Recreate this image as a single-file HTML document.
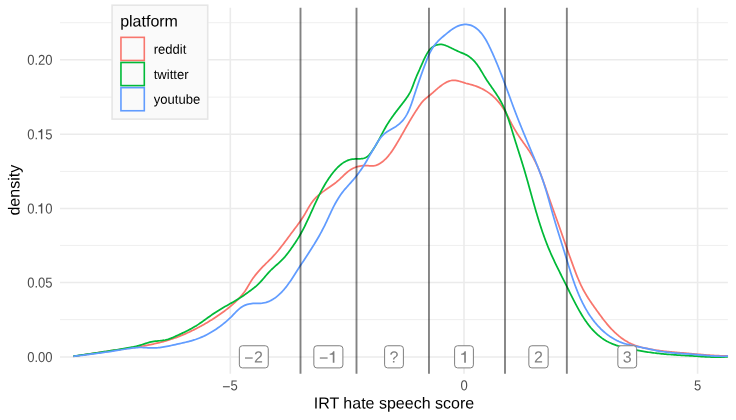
<!DOCTYPE html>
<html><head><meta charset="utf-8"><title>density</title>
<style>
html,body{margin:0;padding:0;background:#fff;}
svg{display:block;will-change:transform;opacity:0.999;}
text{font-family:"Liberation Sans",sans-serif;}
</style></head><body>
<svg width="736" height="420" viewBox="0 0 736 420">
<rect width="736" height="420" fill="#ffffff"/>

<line x1="60" x2="727.9" y1="22.70" y2="22.70" stroke="#ebebeb" stroke-width="0.78"/>
<line x1="60" x2="727.9" y1="97.15" y2="97.15" stroke="#ebebeb" stroke-width="0.78"/>
<line x1="60" x2="727.9" y1="171.42" y2="171.42" stroke="#ebebeb" stroke-width="0.78"/>
<line x1="60" x2="727.9" y1="245.45" y2="245.45" stroke="#ebebeb" stroke-width="0.78"/>
<line x1="60" x2="727.9" y1="319.60" y2="319.60" stroke="#ebebeb" stroke-width="0.78"/>
<line x1="60" x2="727.9" y1="59.80" y2="59.80" stroke="#ebebeb" stroke-width="1.5"/>
<line x1="60" x2="727.9" y1="134.25" y2="134.25" stroke="#ebebeb" stroke-width="1.5"/>
<line x1="60" x2="727.9" y1="208.40" y2="208.40" stroke="#ebebeb" stroke-width="1.5"/>
<line x1="60" x2="727.9" y1="282.50" y2="282.50" stroke="#ebebeb" stroke-width="1.5"/>
<line x1="60" x2="727.9" y1="356.90" y2="356.90" stroke="#ebebeb" stroke-width="1.5"/>
<line x1="230.3" x2="230.3" y1="7.8" y2="373.7" stroke="#ebebeb" stroke-width="1.6"/>
<line x1="464.0" x2="464.0" y1="7.8" y2="373.7" stroke="#ebebeb" stroke-width="1.6"/>
<line x1="697.6" x2="697.6" y1="7.8" y2="373.7" stroke="#ebebeb" stroke-width="1.6"/>
<path transform="translate(0.25,0.25)" d="M73.10,356.10 L74.41,355.91 L75.73,355.71 L77.04,355.52 L78.35,355.33 L79.66,355.13 L80.98,354.94 L82.29,354.74 L83.60,354.55 L84.90,354.36 L86.21,354.16 L87.52,353.97 L88.83,353.77 L90.14,353.58 L91.44,353.38 L92.75,353.19 L94.05,352.99 L95.36,352.80 L96.67,352.60 L97.97,352.41 L99.28,352.21 L100.58,352.02 L101.89,351.82 L103.19,351.63 L104.50,351.44 L105.81,351.24 L107.11,351.05 L108.42,350.86 L109.72,350.66 L111.03,350.47 L112.34,350.28 L113.64,350.09 L114.95,349.89 L116.26,349.70 L117.57,349.51 L118.88,349.32 L120.19,349.13 L121.50,348.94 L122.81,348.75 L124.12,348.56 L125.43,348.37 L126.74,348.19 L128.06,348.00 L129.37,347.80 L130.68,347.61 L131.99,347.42 L133.31,347.22 L134.62,347.02 L135.93,346.82 L137.24,346.62 L138.55,346.41 L139.86,346.20 L141.17,345.98 L142.48,345.76 L143.78,345.54 L145.09,345.30 L146.39,345.07 L147.69,344.82 L149.00,344.58 L150.29,344.32 L151.59,344.06 L152.89,343.79 L154.18,343.51 L155.47,343.22 L156.76,342.93 L158.04,342.62 L159.33,342.31 L160.61,341.99 L161.89,341.66 L163.16,341.31 L164.43,340.96 L165.70,340.60 L166.97,340.22 L168.23,339.84 L169.49,339.44 L170.75,339.03 L172.00,338.61 L173.25,338.18 L174.49,337.74 L175.74,337.30 L176.97,336.84 L178.21,336.37 L179.44,335.89 L180.67,335.40 L181.89,334.90 L183.12,334.39 L184.33,333.87 L185.55,333.34 L186.76,332.81 L187.96,332.26 L189.16,331.71 L190.36,331.15 L191.56,330.57 L192.75,329.99 L193.93,329.40 L195.12,328.81 L196.30,328.20 L197.47,327.59 L198.64,326.97 L199.81,326.34 L200.97,325.70 L202.13,325.06 L203.28,324.41 L204.43,323.75 L205.58,323.08 L206.72,322.41 L207.86,321.73 L208.99,321.04 L210.12,320.34 L211.24,319.64 L212.36,318.94 L213.48,318.22 L214.59,317.50 L215.70,316.78 L216.80,316.04 L217.89,315.30 L218.99,314.56 L220.07,313.80 L221.15,313.04 L222.22,312.27 L223.29,311.50 L224.35,310.71 L225.41,309.91 L226.45,309.11 L227.49,308.29 L228.52,307.47 L229.54,306.63 L230.56,305.79 L231.56,304.93 L232.56,304.06 L233.54,303.18 L234.52,302.29 L235.49,301.39 L236.45,300.47 L237.39,299.54 L238.32,298.59 L239.23,297.63 L240.13,296.65 L241.00,295.66 L241.86,294.65 L242.69,293.62 L243.50,292.58 L244.29,291.51 L245.04,290.43 L245.77,289.32 L246.48,288.20 L247.17,287.07 L247.84,285.93 L248.51,284.78 L249.18,283.63 L249.86,282.49 L250.55,281.36 L251.25,280.24 L251.98,279.14 L252.73,278.05 L253.51,276.97 L254.30,275.91 L255.11,274.87 L255.94,273.84 L256.78,272.82 L257.64,271.81 L258.51,270.82 L259.40,269.83 L260.29,268.86 L261.20,267.89 L262.11,266.93 L263.04,265.98 L263.96,265.04 L264.90,264.11 L265.84,263.18 L266.78,262.25 L267.72,261.32 L268.65,260.40 L269.59,259.47 L270.52,258.53 L271.44,257.59 L272.35,256.64 L273.25,255.68 L274.14,254.71 L275.02,253.72 L275.89,252.73 L276.75,251.72 L277.60,250.71 L278.44,249.69 L279.28,248.66 L280.10,247.62 L280.92,246.58 L281.74,245.53 L282.55,244.48 L283.35,243.43 L284.15,242.37 L284.94,241.30 L285.74,240.24 L286.53,239.17 L287.32,238.11 L288.11,237.04 L288.90,235.97 L289.69,234.91 L290.48,233.85 L291.27,232.79 L292.06,231.73 L292.86,230.68 L293.65,229.63 L294.45,228.58 L295.24,227.52 L296.03,226.47 L296.82,225.41 L297.60,224.35 L298.37,223.29 L299.14,222.21 L299.90,221.14 L300.65,220.05 L301.39,218.96 L302.12,217.85 L302.83,216.74 L303.54,215.61 L304.23,214.47 L304.90,213.32 L305.57,212.16 L306.24,211.00 L306.90,209.83 L307.56,208.67 L308.23,207.51 L308.92,206.37 L309.61,205.23 L310.32,204.11 L311.05,203.01 L311.81,201.93 L312.60,200.88 L313.42,199.85 L314.27,198.86 L315.16,197.90 L316.08,196.97 L317.04,196.07 L318.02,195.19 L319.02,194.34 L320.05,193.51 L321.09,192.69 L322.15,191.90 L323.23,191.11 L324.31,190.34 L325.40,189.58 L326.49,188.82 L327.58,188.06 L328.67,187.31 L329.76,186.56 L330.84,185.80 L331.91,185.04 L332.97,184.27 L334.03,183.49 L335.07,182.69 L336.10,181.88 L337.12,181.04 L338.13,180.18 L339.11,179.30 L340.09,178.39 L341.05,177.46 L342.01,176.53 L342.97,175.59 L343.94,174.65 L344.91,173.74 L345.90,172.84 L346.91,171.97 L347.94,171.14 L349.00,170.36 L350.09,169.62 L351.21,168.94 L352.36,168.32 L353.54,167.75 L354.74,167.23 L355.97,166.78 L357.22,166.39 L358.49,166.06 L359.78,165.79 L361.08,165.59 L362.40,165.46 L363.74,165.39 L365.09,165.39 L366.44,165.43 L367.80,165.49 L369.15,165.56 L370.49,165.60 L371.82,165.59 L373.13,165.51 L374.42,165.34 L375.67,165.05 L376.90,164.64 L378.08,164.13 L379.24,163.51 L380.36,162.81 L381.45,162.05 L382.51,161.22 L383.53,160.35 L384.51,159.45 L385.47,158.52 L386.39,157.57 L387.28,156.59 L388.14,155.59 L388.98,154.56 L389.80,153.52 L390.59,152.46 L391.37,151.38 L392.12,150.29 L392.86,149.19 L393.58,148.08 L394.30,146.96 L395.00,145.83 L395.69,144.70 L396.37,143.56 L397.05,142.42 L397.73,141.28 L398.40,140.14 L399.06,139.00 L399.72,137.85 L400.38,136.70 L401.04,135.56 L401.70,134.41 L402.35,133.26 L403.00,132.11 L403.65,130.97 L404.30,129.82 L404.96,128.67 L405.61,127.52 L406.26,126.38 L406.92,125.23 L407.58,124.09 L408.24,122.94 L408.90,121.80 L409.57,120.66 L410.24,119.52 L410.91,118.39 L411.60,117.26 L412.28,116.12 L412.98,115.00 L413.68,113.87 L414.38,112.75 L415.10,111.63 L415.82,110.52 L416.55,109.40 L417.29,108.30 L418.03,107.19 L418.78,106.09 L419.52,104.99 L420.28,103.91 L421.05,102.85 L421.86,101.82 L422.72,100.84 L423.63,99.91 L424.60,99.03 L425.60,98.19 L426.62,97.36 L427.65,96.54 L428.69,95.72 L429.71,94.88 L430.71,94.03 L431.71,93.17 L432.70,92.30 L433.69,91.42 L434.67,90.54 L435.66,89.66 L436.66,88.79 L437.67,87.93 L438.70,87.08 L439.74,86.24 L440.80,85.43 L441.89,84.63 L443.00,83.87 L444.13,83.14 L445.29,82.47 L446.47,81.86 L447.67,81.32 L448.88,80.86 L450.11,80.49 L451.36,80.24 L452.62,80.09 L453.90,80.07 L455.18,80.17 L456.48,80.36 L457.78,80.64 L459.08,80.98 L460.39,81.36 L461.70,81.78 L463.01,82.20 L464.31,82.61 L465.61,83.00 L466.90,83.35 L468.19,83.69 L469.47,84.02 L470.74,84.35 L472.01,84.69 L473.26,85.06 L474.51,85.47 L475.75,85.90 L476.98,86.36 L478.20,86.86 L479.40,87.38 L480.60,87.93 L481.78,88.51 L482.94,89.13 L484.09,89.77 L485.23,90.44 L486.35,91.13 L487.45,91.86 L488.53,92.61 L489.60,93.39 L490.64,94.20 L491.67,95.03 L492.67,95.89 L493.66,96.78 L494.61,97.69 L495.55,98.63 L496.46,99.59 L497.35,100.57 L498.21,101.58 L499.06,102.61 L499.88,103.65 L500.68,104.72 L501.45,105.80 L502.21,106.89 L502.94,108.01 L503.66,109.13 L504.35,110.26 L505.02,111.41 L505.68,112.56 L506.31,113.72 L506.94,114.89 L507.55,116.06 L508.16,117.24 L508.75,118.42 L509.35,119.60 L509.94,120.78 L510.54,121.95 L511.14,123.13 L511.75,124.30 L512.37,125.46 L513.00,126.62 L513.64,127.76 L514.30,128.91 L514.97,130.04 L515.65,131.17 L516.34,132.29 L517.05,133.41 L517.76,134.52 L518.48,135.63 L519.22,136.73 L519.96,137.82 L520.71,138.91 L521.47,140.00 L522.24,141.08 L523.00,142.17 L523.77,143.25 L524.54,144.33 L525.31,145.41 L526.08,146.50 L526.83,147.59 L527.58,148.68 L528.32,149.77 L529.05,150.88 L529.77,151.99 L530.47,153.11 L531.15,154.24 L531.81,155.37 L532.46,156.52 L533.10,157.67 L533.72,158.84 L534.32,160.01 L534.91,161.18 L535.49,162.37 L536.05,163.56 L536.60,164.76 L537.14,165.96 L537.67,167.17 L538.19,168.38 L538.70,169.60 L539.20,170.83 L539.69,172.06 L540.17,173.29 L540.65,174.53 L541.12,175.77 L541.58,177.01 L542.03,178.26 L542.48,179.51 L542.93,180.76 L543.37,182.02 L543.81,183.27 L544.25,184.53 L544.68,185.78 L545.11,187.04 L545.54,188.30 L545.97,189.56 L546.40,190.82 L546.83,192.07 L547.26,193.33 L547.69,194.59 L548.13,195.84 L548.56,197.09 L549.00,198.34 L549.44,199.59 L549.88,200.84 L550.32,202.09 L550.77,203.34 L551.21,204.58 L551.65,205.83 L552.10,207.07 L552.55,208.32 L552.99,209.56 L553.44,210.80 L553.89,212.05 L554.34,213.29 L554.78,214.53 L555.23,215.77 L555.68,217.02 L556.13,218.26 L556.57,219.50 L557.02,220.74 L557.47,221.99 L557.91,223.23 L558.36,224.47 L558.80,225.72 L559.24,226.96 L559.68,228.21 L560.12,229.45 L560.56,230.70 L561.00,231.95 L561.44,233.19 L561.87,234.44 L562.31,235.69 L562.75,236.94 L563.18,238.19 L563.62,239.43 L564.06,240.68 L564.49,241.93 L564.93,243.18 L565.37,244.43 L565.80,245.68 L566.24,246.93 L566.68,248.18 L567.11,249.43 L567.55,250.68 L567.99,251.93 L568.43,253.18 L568.88,254.43 L569.32,255.68 L569.76,256.93 L570.21,258.17 L570.65,259.42 L571.10,260.67 L571.55,261.92 L572.00,263.17 L572.45,264.41 L572.91,265.66 L573.36,266.90 L573.82,268.15 L574.29,269.39 L574.75,270.63 L575.22,271.87 L575.70,273.11 L576.18,274.35 L576.67,275.58 L577.17,276.80 L577.67,278.03 L578.19,279.25 L578.71,280.46 L579.24,281.67 L579.79,282.88 L580.34,284.07 L580.90,285.27 L581.48,286.45 L582.07,287.63 L582.68,288.80 L583.30,289.97 L583.93,291.13 L584.58,292.27 L585.24,293.42 L585.92,294.55 L586.60,295.68 L587.30,296.80 L588.01,297.91 L588.73,299.02 L589.46,300.13 L590.20,301.22 L590.94,302.32 L591.69,303.41 L592.45,304.50 L593.21,305.58 L593.98,306.66 L594.75,307.74 L595.52,308.82 L596.29,309.89 L597.07,310.97 L597.84,312.04 L598.62,313.11 L599.40,314.18 L600.18,315.25 L600.96,316.31 L601.75,317.37 L602.55,318.42 L603.35,319.47 L604.16,320.51 L604.98,321.54 L605.81,322.57 L606.64,323.59 L607.49,324.60 L608.35,325.60 L609.22,326.60 L610.11,327.58 L611.01,328.55 L611.92,329.51 L612.85,330.45 L613.80,331.39 L614.76,332.31 L615.74,333.21 L616.73,334.09 L617.74,334.96 L618.76,335.81 L619.80,336.64 L620.85,337.45 L621.92,338.23 L623.01,338.99 L624.11,339.73 L625.22,340.44 L626.35,341.12 L627.50,341.78 L628.66,342.41 L629.83,343.00 L631.02,343.57 L632.23,344.10 L633.45,344.60 L634.68,345.07 L635.92,345.51 L637.17,345.93 L638.44,346.32 L639.71,346.68 L640.99,347.03 L642.27,347.35 L643.57,347.66 L644.86,347.95 L646.16,348.22 L647.46,348.48 L648.77,348.73 L650.07,348.97 L651.38,349.20 L652.68,349.42 L653.99,349.63 L655.30,349.83 L656.61,350.03 L657.92,350.21 L659.23,350.39 L660.54,350.56 L661.85,350.72 L663.16,350.87 L664.48,351.02 L665.79,351.17 L667.11,351.31 L668.42,351.44 L669.74,351.57 L671.05,351.70 L672.37,351.82 L673.69,351.94 L675.00,352.06 L676.32,352.18 L677.64,352.29 L678.96,352.40 L680.27,352.51 L681.59,352.63 L682.91,352.74 L684.23,352.85 L685.55,352.97 L686.87,353.08 L688.19,353.20 L689.50,353.31 L690.82,353.43 L692.14,353.55 L693.46,353.66 L694.78,353.78 L696.10,353.90 L697.41,354.01 L698.73,354.12 L700.05,354.23 L701.37,354.35 L702.69,354.45 L704.01,354.56 L705.33,354.66 L706.65,354.76 L707.97,354.86 L709.29,354.95 L710.61,355.04 L711.93,355.13 L713.25,355.21 L714.57,355.29 L715.89,355.36 L717.22,355.43 L718.54,355.49 L719.86,355.54 L721.18,355.60 L722.50,355.64 L723.83,355.68 L725.15,355.71 L726.48,355.73 L727.80,355.75" fill="none" stroke="#F8766D" stroke-width="1.75" stroke-linejoin="round" stroke-linecap="butt"/>
<path transform="translate(0.25,0.25)" d="M73.10,355.90 L74.50,355.71 L75.91,355.52 L77.31,355.32 L78.71,355.13 L80.12,354.93 L81.52,354.74 L82.92,354.54 L84.32,354.34 L85.72,354.15 L87.13,353.95 L88.53,353.75 L89.93,353.54 L91.33,353.34 L92.73,353.14 L94.13,352.93 L95.53,352.73 L96.93,352.52 L98.33,352.32 L99.73,352.11 L101.13,351.90 L102.53,351.69 L103.93,351.48 L105.33,351.26 L106.73,351.05 L108.13,350.83 L109.53,350.62 L110.93,350.40 L112.33,350.18 L113.72,349.96 L115.12,349.74 L116.52,349.52 L117.92,349.30 L119.32,349.08 L120.72,348.85 L122.11,348.62 L123.51,348.40 L124.91,348.17 L126.31,347.93 L127.70,347.69 L129.09,347.44 L130.48,347.18 L131.87,346.90 L133.26,346.62 L134.64,346.31 L136.01,345.99 L137.39,345.64 L138.75,345.28 L140.11,344.89 L141.47,344.47 L142.82,344.04 L144.17,343.60 L145.52,343.17 L146.87,342.74 L148.23,342.34 L149.59,341.96 L150.97,341.63 L152.35,341.34 L153.75,341.11 L155.16,340.92 L156.57,340.77 L157.99,340.64 L159.41,340.50 L160.82,340.36 L162.23,340.20 L163.63,339.99 L165.01,339.74 L166.38,339.42 L167.73,339.04 L169.07,338.61 L170.39,338.14 L171.71,337.62 L173.02,337.08 L174.32,336.51 L175.61,335.92 L176.90,335.32 L178.19,334.72 L179.48,334.12 L180.77,333.52 L182.05,332.91 L183.33,332.30 L184.61,331.68 L185.88,331.05 L187.15,330.42 L188.41,329.78 L189.66,329.12 L190.90,328.45 L192.14,327.77 L193.37,327.07 L194.59,326.36 L195.79,325.63 L196.99,324.88 L198.17,324.11 L199.34,323.33 L200.51,322.53 L201.67,321.72 L202.82,320.90 L203.97,320.07 L205.12,319.24 L206.26,318.41 L207.41,317.58 L208.55,316.74 L209.70,315.92 L210.85,315.09 L212.01,314.28 L213.17,313.47 L214.35,312.68 L215.53,311.90 L216.72,311.14 L217.91,310.39 L219.12,309.65 L220.33,308.93 L221.55,308.21 L222.77,307.50 L224.00,306.79 L225.23,306.09 L226.46,305.40 L227.70,304.70 L228.93,304.01 L230.17,303.32 L231.40,302.62 L232.63,301.92 L233.85,301.21 L235.08,300.50 L236.29,299.77 L237.50,299.04 L238.71,298.30 L239.90,297.54 L241.09,296.77 L242.27,295.98 L243.44,295.19 L244.61,294.38 L245.76,293.56 L246.91,292.74 L248.06,291.90 L249.20,291.06 L250.34,290.21 L251.47,289.36 L252.60,288.51 L253.72,287.64 L254.82,286.76 L255.91,285.86 L256.97,284.93 L258.00,283.97 L259.00,282.98 L259.97,281.96 L260.92,280.92 L261.86,279.86 L262.78,278.79 L263.70,277.71 L264.61,276.62 L265.53,275.53 L266.45,274.45 L267.38,273.37 L268.32,272.31 L269.28,271.27 L270.27,270.25 L271.28,269.25 L272.31,268.28 L273.36,267.32 L274.42,266.37 L275.48,265.43 L276.55,264.49 L277.61,263.55 L278.67,262.61 L279.72,261.65 L280.75,260.68 L281.75,259.70 L282.74,258.69 L283.70,257.66 L284.63,256.60 L285.53,255.52 L286.42,254.42 L287.29,253.31 L288.14,252.18 L288.98,251.04 L289.81,249.90 L290.63,248.74 L291.45,247.58 L292.26,246.42 L293.07,245.25 L293.88,244.08 L294.67,242.91 L295.46,241.73 L296.24,240.54 L297.00,239.35 L297.75,238.15 L298.49,236.94 L299.21,235.73 L299.92,234.50 L300.61,233.27 L301.30,232.04 L301.97,230.79 L302.63,229.54 L303.28,228.29 L303.93,227.03 L304.56,225.77 L305.19,224.50 L305.80,223.23 L306.42,221.95 L307.02,220.68 L307.62,219.39 L308.22,218.11 L308.81,216.82 L309.40,215.54 L309.98,214.25 L310.57,212.95 L311.15,211.66 L311.73,210.37 L312.31,209.08 L312.90,207.79 L313.48,206.50 L314.07,205.21 L314.65,203.92 L315.24,202.63 L315.84,201.35 L316.44,200.06 L317.04,198.78 L317.66,197.51 L318.27,196.24 L318.90,194.97 L319.53,193.70 L320.17,192.44 L320.82,191.19 L321.48,189.94 L322.15,188.69 L322.84,187.45 L323.53,186.22 L324.24,185.00 L324.96,183.78 L325.69,182.57 L326.44,181.37 L327.20,180.17 L327.98,178.98 L328.78,177.81 L329.59,176.64 L330.42,175.48 L331.27,174.33 L332.14,173.19 L333.03,172.07 L333.94,170.95 L334.87,169.86 L335.82,168.79 L336.80,167.75 L337.80,166.74 L338.83,165.77 L339.89,164.84 L340.97,163.96 L342.09,163.13 L343.24,162.36 L344.41,161.65 L345.62,161.00 L346.87,160.43 L348.15,159.93 L349.46,159.51 L350.81,159.18 L352.20,158.94 L353.63,158.78 L355.09,158.70 L356.56,158.65 L358.03,158.62 L359.49,158.56 L360.92,158.46 L362.31,158.28 L363.65,158.00 L364.93,157.58 L366.13,157.00 L367.24,156.23 L368.27,155.31 L369.23,154.26 L370.14,153.12 L371.01,151.93 L371.86,150.73 L372.68,149.52 L373.49,148.31 L374.27,147.10 L375.04,145.88 L375.79,144.65 L376.52,143.42 L377.22,142.19 L377.92,140.94 L378.60,139.70 L379.27,138.45 L379.93,137.20 L380.58,135.94 L381.24,134.69 L381.89,133.44 L382.54,132.19 L383.20,130.94 L383.86,129.70 L384.54,128.47 L385.22,127.24 L385.92,126.02 L386.64,124.80 L387.37,123.60 L388.12,122.41 L388.89,121.22 L389.66,120.04 L390.46,118.87 L391.26,117.71 L392.08,116.55 L392.90,115.40 L393.74,114.25 L394.58,113.11 L395.44,111.98 L396.29,110.85 L397.16,109.72 L398.03,108.60 L398.90,107.48 L399.77,106.36 L400.65,105.24 L401.53,104.13 L402.40,103.01 L403.27,101.89 L404.12,100.77 L404.97,99.64 L405.79,98.50 L406.60,97.34 L407.38,96.17 L408.13,94.99 L408.85,93.78 L409.53,92.56 L410.18,91.30 L410.79,90.03 L411.36,88.73 L411.91,87.42 L412.43,86.09 L412.94,84.75 L413.44,83.41 L413.93,82.06 L414.43,80.72 L414.94,79.39 L415.47,78.07 L416.01,76.75 L416.57,75.45 L417.13,74.15 L417.70,72.86 L418.27,71.57 L418.85,70.28 L419.43,68.99 L420.00,67.70 L420.56,66.42 L421.13,65.12 L421.69,63.83 L422.26,62.54 L422.84,61.25 L423.42,59.96 L424.02,58.68 L424.64,57.40 L425.27,56.13 L425.94,54.87 L426.63,53.61 L427.36,52.37 L428.14,51.17 L428.98,50.02 L429.91,48.93 L430.93,47.93 L432.04,47.01 L433.22,46.21 L434.47,45.52 L435.76,44.95 L437.10,44.53 L438.45,44.26 L439.82,44.14 L441.19,44.20 L442.55,44.41 L443.91,44.75 L445.26,45.20 L446.60,45.73 L447.93,46.32 L449.24,46.94 L450.54,47.58 L451.83,48.21 L453.10,48.84 L454.37,49.46 L455.64,50.07 L456.91,50.66 L458.19,51.24 L459.48,51.80 L460.79,52.33 L462.10,52.86 L463.41,53.40 L464.70,53.97 L465.97,54.61 L467.19,55.31 L468.38,56.07 L469.53,56.88 L470.64,57.75 L471.71,58.67 L472.75,59.63 L473.74,60.63 L474.69,61.67 L475.60,62.75 L476.47,63.85 L477.31,64.98 L478.12,66.14 L478.90,67.31 L479.66,68.50 L480.40,69.71 L481.13,70.93 L481.86,72.15 L482.58,73.37 L483.30,74.60 L484.03,75.83 L484.77,77.05 L485.52,78.25 L486.28,79.45 L487.06,80.65 L487.85,81.83 L488.65,83.01 L489.46,84.18 L490.27,85.35 L491.08,86.51 L491.89,87.68 L492.71,88.84 L493.52,90.01 L494.32,91.17 L495.12,92.34 L495.91,93.52 L496.68,94.70 L497.45,95.88 L498.19,97.08 L498.92,98.28 L499.64,99.49 L500.33,100.71 L501.00,101.95 L501.65,103.20 L502.27,104.45 L502.88,105.72 L503.48,107.00 L504.05,108.28 L504.61,109.58 L505.15,110.88 L505.68,112.19 L506.20,113.50 L506.70,114.83 L507.19,116.16 L507.67,117.49 L508.14,118.83 L508.60,120.17 L509.05,121.52 L509.49,122.87 L509.93,124.23 L510.36,125.59 L510.79,126.95 L511.21,128.31 L511.63,129.67 L512.05,131.03 L512.46,132.39 L512.88,133.76 L513.30,135.12 L513.71,136.48 L514.13,137.84 L514.55,139.19 L514.97,140.55 L515.40,141.90 L515.82,143.25 L516.25,144.60 L516.67,145.95 L517.10,147.30 L517.53,148.65 L517.96,150.00 L518.38,151.34 L518.81,152.69 L519.24,154.04 L519.66,155.38 L520.09,156.73 L520.51,158.07 L520.93,159.42 L521.35,160.77 L521.77,162.12 L522.18,163.46 L522.60,164.81 L523.01,166.16 L523.42,167.52 L523.82,168.87 L524.23,170.22 L524.63,171.58 L525.02,172.94 L525.42,174.30 L525.81,175.65 L526.20,177.01 L526.59,178.38 L526.97,179.74 L527.36,181.10 L527.74,182.47 L528.12,183.83 L528.50,185.19 L528.88,186.56 L529.26,187.93 L529.64,189.29 L530.02,190.66 L530.40,192.03 L530.77,193.39 L531.15,194.76 L531.53,196.13 L531.91,197.49 L532.29,198.86 L532.67,200.23 L533.05,201.59 L533.44,202.96 L533.82,204.32 L534.21,205.69 L534.60,207.05 L534.99,208.42 L535.38,209.78 L535.78,211.14 L536.18,212.50 L536.58,213.86 L536.98,215.22 L537.39,216.58 L537.80,217.93 L538.21,219.29 L538.63,220.64 L539.05,221.99 L539.48,223.34 L539.91,224.69 L540.35,226.04 L540.79,227.38 L541.23,228.73 L541.68,230.07 L542.13,231.41 L542.59,232.75 L543.06,234.08 L543.53,235.41 L544.01,236.75 L544.49,238.07 L544.98,239.40 L545.48,240.72 L545.98,242.04 L546.49,243.36 L547.01,244.68 L547.53,245.99 L548.07,247.30 L548.61,248.61 L549.15,249.91 L549.71,251.21 L550.27,252.51 L550.84,253.80 L551.41,255.10 L552.00,256.39 L552.58,257.67 L553.18,258.96 L553.78,260.24 L554.38,261.52 L554.99,262.80 L555.60,264.08 L556.21,265.36 L556.83,266.63 L557.46,267.91 L558.08,269.18 L558.71,270.45 L559.34,271.72 L559.97,272.99 L560.61,274.26 L561.24,275.53 L561.88,276.80 L562.51,278.07 L563.15,279.33 L563.78,280.60 L564.42,281.87 L565.05,283.14 L565.69,284.41 L566.32,285.68 L566.95,286.95 L567.58,288.22 L568.21,289.49 L568.84,290.76 L569.46,292.02 L570.09,293.29 L570.72,294.56 L571.36,295.83 L571.99,297.09 L572.63,298.36 L573.27,299.62 L573.92,300.88 L574.57,302.13 L575.22,303.39 L575.88,304.64 L576.55,305.88 L577.22,307.13 L577.90,308.37 L578.59,309.60 L579.28,310.83 L579.99,312.06 L580.70,313.28 L581.43,314.50 L582.16,315.71 L582.91,316.91 L583.67,318.10 L584.45,319.28 L585.24,320.45 L586.04,321.61 L586.87,322.76 L587.71,323.89 L588.57,325.01 L589.45,326.12 L590.34,327.21 L591.26,328.28 L592.21,329.34 L593.17,330.37 L594.16,331.39 L595.18,332.39 L596.21,333.36 L597.27,334.32 L598.36,335.24 L599.46,336.14 L600.59,337.02 L601.74,337.86 L602.91,338.67 L604.09,339.45 L605.30,340.20 L606.53,340.91 L607.77,341.58 L609.03,342.22 L610.30,342.82 L611.59,343.38 L612.89,343.91 L614.21,344.41 L615.54,344.88 L616.88,345.32 L618.23,345.74 L619.58,346.13 L620.95,346.51 L622.32,346.87 L623.69,347.21 L625.07,347.54 L626.46,347.86 L627.84,348.17 L629.23,348.47 L630.61,348.77 L632.00,349.06 L633.39,349.34 L634.78,349.62 L636.17,349.89 L637.56,350.15 L638.95,350.41 L640.34,350.66 L641.74,350.90 L643.13,351.14 L644.53,351.36 L645.93,351.58 L647.32,351.80 L648.72,352.00 L650.12,352.20 L651.52,352.39 L652.93,352.57 L654.33,352.75 L655.73,352.92 L657.14,353.08 L658.55,353.23 L659.95,353.38 L661.36,353.52 L662.77,353.65 L664.18,353.78 L665.59,353.91 L667.00,354.03 L668.41,354.14 L669.83,354.25 L671.24,354.36 L672.65,354.46 L674.06,354.56 L675.48,354.66 L676.89,354.76 L678.31,354.85 L679.72,354.94 L681.13,355.03 L682.55,355.12 L683.96,355.20 L685.38,355.29 L686.79,355.37 L688.21,355.46 L689.62,355.54 L691.03,355.63 L692.45,355.72 L693.86,355.81 L695.27,355.90 L696.69,355.99 L698.10,356.08 L699.51,356.17 L700.92,356.26 L702.33,356.35 L703.74,356.44 L705.15,356.52 L706.56,356.59 L707.98,356.66 L709.39,356.73 L710.80,356.78 L712.21,356.83 L713.62,356.87 L715.04,356.89 L716.45,356.91 L717.87,356.91 L719.28,356.90 L720.70,356.88 L722.12,356.84 L723.54,356.78 L724.96,356.70 L726.38,356.61 L727.80,356.50" fill="none" stroke="#00BA38" stroke-width="1.75" stroke-linejoin="round" stroke-linecap="butt"/>
<path transform="translate(0.25,0.25)" d="M73.10,356.10 L74.56,355.92 L76.02,355.74 L77.49,355.56 L78.95,355.37 L80.41,355.19 L81.87,355.01 L83.33,354.83 L84.80,354.65 L86.26,354.46 L87.72,354.28 L89.18,354.09 L90.64,353.91 L92.10,353.72 L93.56,353.53 L95.02,353.34 L96.48,353.15 L97.94,352.95 L99.40,352.76 L100.86,352.56 L102.32,352.36 L103.78,352.16 L105.24,351.95 L106.69,351.75 L108.15,351.54 L109.61,351.32 L111.07,351.11 L112.52,350.89 L113.98,350.66 L115.43,350.44 L116.89,350.21 L118.34,349.98 L119.80,349.74 L121.25,349.50 L122.71,349.25 L124.16,349.01 L125.61,348.76 L127.07,348.51 L128.52,348.28 L129.98,348.06 L131.43,347.85 L132.89,347.67 L134.35,347.51 L135.81,347.39 L137.27,347.29 L138.74,347.23 L140.21,347.22 L141.68,347.25 L143.15,347.31 L144.63,347.39 L146.10,347.48 L147.58,347.57 L149.05,347.65 L150.53,347.71 L152.00,347.74 L153.47,347.73 L154.94,347.68 L156.40,347.59 L157.86,347.47 L159.32,347.31 L160.78,347.13 L162.23,346.92 L163.69,346.69 L165.14,346.43 L166.59,346.16 L168.03,345.87 L169.48,345.57 L170.93,345.26 L172.37,344.93 L173.81,344.61 L175.26,344.28 L176.70,343.95 L178.14,343.63 L179.58,343.30 L181.03,342.98 L182.46,342.66 L183.90,342.33 L185.34,342.00 L186.77,341.65 L188.19,341.30 L189.61,340.93 L191.03,340.54 L192.44,340.13 L193.84,339.71 L195.24,339.26 L196.62,338.78 L198.00,338.27 L199.37,337.74 L200.73,337.18 L202.08,336.60 L203.42,335.99 L204.75,335.35 L206.07,334.69 L207.38,334.01 L208.68,333.31 L209.97,332.58 L211.25,331.84 L212.51,331.08 L213.76,330.29 L215.00,329.49 L216.23,328.67 L217.44,327.84 L218.64,326.99 L219.82,326.12 L220.99,325.24 L222.15,324.34 L223.29,323.43 L224.42,322.51 L225.54,321.57 L226.65,320.61 L227.74,319.64 L228.83,318.64 L229.90,317.62 L230.97,316.59 L232.02,315.53 L233.07,314.44 L234.12,313.35 L235.18,312.26 L236.24,311.19 L237.32,310.14 L238.42,309.13 L239.54,308.18 L240.70,307.29 L241.90,306.48 L243.13,305.76 L244.42,305.13 L245.74,304.60 L247.10,304.15 L248.49,303.79 L249.91,303.51 L251.36,303.31 L252.83,303.18 L254.31,303.11 L255.81,303.09 L257.31,303.08 L258.80,303.06 L260.29,303.02 L261.76,302.91 L263.21,302.73 L264.63,302.45 L266.02,302.09 L267.39,301.64 L268.73,301.12 L270.04,300.53 L271.33,299.86 L272.59,299.13 L273.82,298.35 L275.02,297.50 L276.20,296.61 L277.35,295.67 L278.47,294.70 L279.56,293.68 L280.63,292.64 L281.66,291.56 L282.67,290.47 L283.66,289.36 L284.61,288.23 L285.55,287.08 L286.46,285.92 L287.35,284.74 L288.22,283.56 L289.08,282.36 L289.92,281.15 L290.75,279.93 L291.56,278.71 L292.37,277.48 L293.17,276.25 L293.97,275.01 L294.76,273.76 L295.54,272.52 L296.33,271.28 L297.12,270.04 L297.92,268.80 L298.71,267.56 L299.52,266.32 L300.32,265.09 L301.13,263.86 L301.93,262.63 L302.74,261.40 L303.56,260.17 L304.37,258.94 L305.18,257.71 L305.99,256.48 L306.80,255.25 L307.61,254.02 L308.41,252.78 L309.21,251.55 L310.01,250.31 L310.81,249.07 L311.60,247.83 L312.38,246.59 L313.17,245.34 L313.94,244.09 L314.71,242.83 L315.47,241.57 L316.22,240.30 L316.97,239.03 L317.71,237.76 L318.44,236.48 L319.16,235.20 L319.88,233.91 L320.58,232.62 L321.28,231.32 L321.97,230.02 L322.65,228.71 L323.32,227.40 L323.99,226.09 L324.64,224.77 L325.29,223.44 L325.92,222.11 L326.55,220.78 L327.17,219.45 L327.79,218.11 L328.41,216.77 L329.03,215.43 L329.65,214.10 L330.27,212.76 L330.90,211.43 L331.53,210.10 L332.17,208.77 L332.83,207.45 L333.49,206.14 L334.17,204.83 L334.87,203.53 L335.58,202.24 L336.31,200.96 L337.05,199.69 L337.82,198.43 L338.60,197.19 L339.41,195.96 L340.23,194.74 L341.09,193.54 L341.96,192.36 L342.86,191.20 L343.79,190.06 L344.73,188.93 L345.70,187.81 L346.67,186.71 L347.65,185.60 L348.64,184.51 L349.63,183.41 L350.61,182.31 L351.59,181.20 L352.56,180.09 L353.52,178.97 L354.46,177.84 L355.39,176.69 L356.30,175.54 L357.20,174.37 L358.09,173.20 L358.96,172.02 L359.81,170.82 L360.66,169.62 L361.49,168.41 L362.30,167.19 L363.10,165.96 L363.89,164.72 L364.67,163.47 L365.43,162.22 L366.18,160.96 L366.93,159.69 L367.67,158.42 L368.40,157.15 L369.13,155.87 L369.86,154.58 L370.60,153.30 L371.33,152.01 L372.07,150.73 L372.81,149.44 L373.56,148.16 L374.31,146.87 L375.07,145.59 L375.83,144.31 L376.61,143.04 L377.39,141.78 L378.19,140.53 L379.02,139.32 L379.88,138.13 L380.78,136.99 L381.73,135.90 L382.73,134.87 L383.78,133.88 L384.88,132.95 L386.03,132.08 L387.23,131.25 L388.47,130.47 L389.74,129.71 L391.02,128.97 L392.31,128.23 L393.60,127.48 L394.87,126.71 L396.11,125.91 L397.32,125.05 L398.47,124.16 L399.59,123.21 L400.65,122.22 L401.65,121.18 L402.60,120.10 L403.50,118.98 L404.36,117.82 L405.16,116.62 L405.92,115.38 L406.65,114.12 L407.33,112.82 L407.98,111.51 L408.60,110.16 L409.19,108.80 L409.76,107.42 L410.30,106.03 L410.82,104.62 L411.33,103.21 L411.82,101.78 L412.30,100.36 L412.77,98.93 L413.24,97.50 L413.70,96.08 L414.16,94.67 L414.62,93.26 L415.09,91.85 L415.55,90.45 L416.01,89.06 L416.48,87.67 L416.95,86.29 L417.42,84.90 L417.89,83.52 L418.36,82.15 L418.83,80.77 L419.31,79.40 L419.79,78.03 L420.27,76.66 L420.76,75.28 L421.25,73.91 L421.74,72.54 L422.24,71.16 L422.74,69.79 L423.24,68.41 L423.75,67.03 L424.26,65.64 L424.78,64.25 L425.31,62.86 L425.84,61.47 L426.38,60.07 L426.93,58.68 L427.50,57.30 L428.08,55.92 L428.69,54.56 L429.32,53.22 L429.98,51.89 L430.67,50.59 L431.38,49.31 L432.14,48.06 L432.93,46.84 L433.76,45.65 L434.64,44.50 L435.56,43.38 L436.51,42.30 L437.50,41.24 L438.52,40.21 L439.57,39.20 L440.65,38.20 L441.75,37.22 L442.87,36.25 L444.00,35.29 L445.16,34.33 L446.32,33.37 L447.49,32.41 L448.67,31.46 L449.87,30.53 L451.08,29.63 L452.32,28.76 L453.57,27.94 L454.84,27.18 L456.15,26.49 L457.47,25.87 L458.83,25.33 L460.22,24.89 L461.64,24.55 L463.07,24.32 L464.51,24.19 L465.94,24.18 L467.37,24.29 L468.78,24.53 L470.16,24.89 L471.51,25.39 L472.82,26.00 L474.09,26.73 L475.32,27.55 L476.51,28.45 L477.65,29.43 L478.75,30.46 L479.80,31.55 L480.79,32.66 L481.74,33.82 L482.64,34.99 L483.49,36.20 L484.31,37.43 L485.10,38.68 L485.85,39.95 L486.57,41.24 L487.27,42.54 L487.94,43.85 L488.60,45.18 L489.25,46.51 L489.88,47.84 L490.51,49.18 L491.13,50.52 L491.74,51.86 L492.34,53.20 L492.95,54.55 L493.54,55.89 L494.13,57.24 L494.71,58.59 L495.29,59.95 L495.86,61.30 L496.43,62.66 L497.00,64.01 L497.56,65.37 L498.11,66.73 L498.66,68.10 L499.21,69.46 L499.75,70.83 L500.29,72.20 L500.82,73.57 L501.35,74.94 L501.88,76.31 L502.41,77.68 L502.93,79.06 L503.45,80.44 L503.97,81.82 L504.48,83.20 L505.00,84.58 L505.51,85.96 L506.02,87.34 L506.53,88.72 L507.04,90.11 L507.55,91.49 L508.06,92.87 L508.56,94.26 L509.07,95.64 L509.58,97.03 L510.09,98.41 L510.59,99.80 L511.10,101.18 L511.61,102.56 L512.12,103.95 L512.64,105.33 L513.15,106.71 L513.67,108.09 L514.19,109.47 L514.71,110.85 L515.23,112.23 L515.76,113.60 L516.29,114.98 L516.82,116.35 L517.36,117.72 L517.89,119.09 L518.44,120.46 L518.98,121.83 L519.53,123.19 L520.08,124.56 L520.63,125.92 L521.18,127.29 L521.74,128.65 L522.30,130.01 L522.86,131.37 L523.42,132.73 L523.98,134.09 L524.55,135.45 L525.11,136.81 L525.68,138.17 L526.25,139.53 L526.82,140.88 L527.39,142.24 L527.96,143.60 L528.53,144.96 L529.10,146.32 L529.67,147.67 L530.24,149.03 L530.81,150.39 L531.38,151.75 L531.96,153.11 L532.53,154.47 L533.09,155.83 L533.66,157.19 L534.23,158.55 L534.79,159.91 L535.35,161.28 L535.91,162.64 L536.46,164.01 L537.02,165.38 L537.56,166.75 L538.10,168.12 L538.64,169.49 L539.17,170.86 L539.70,172.24 L540.22,173.62 L540.73,175.00 L541.24,176.38 L541.74,177.77 L542.24,179.15 L542.72,180.54 L543.20,181.93 L543.66,183.33 L544.12,184.73 L544.57,186.13 L545.02,187.53 L545.45,188.94 L545.88,190.34 L546.30,191.75 L546.72,193.17 L547.13,194.58 L547.54,195.99 L547.94,197.41 L548.34,198.83 L548.74,200.24 L549.13,201.66 L549.52,203.08 L549.92,204.50 L550.31,205.92 L550.70,207.34 L551.10,208.76 L551.49,210.18 L551.89,211.60 L552.29,213.02 L552.69,214.43 L553.10,215.85 L553.51,217.27 L553.93,218.68 L554.34,220.09 L554.76,221.51 L555.19,222.92 L555.61,224.33 L556.04,225.74 L556.47,227.15 L556.90,228.56 L557.34,229.97 L557.77,231.38 L558.21,232.79 L558.65,234.20 L559.08,235.60 L559.52,237.01 L559.96,238.42 L560.41,239.82 L560.85,241.23 L561.29,242.64 L561.73,244.04 L562.17,245.45 L562.61,246.85 L563.05,248.26 L563.49,249.67 L563.93,251.07 L564.37,252.48 L564.80,253.89 L565.24,255.29 L565.67,256.70 L566.10,258.11 L566.53,259.51 L566.96,260.92 L567.39,262.33 L567.82,263.73 L568.25,265.14 L568.68,266.55 L569.12,267.95 L569.56,269.35 L570.00,270.75 L570.44,272.16 L570.89,273.55 L571.34,274.95 L571.80,276.35 L572.26,277.74 L572.73,279.13 L573.21,280.52 L573.69,281.91 L574.18,283.30 L574.68,284.68 L575.19,286.06 L575.71,287.43 L576.24,288.80 L576.78,290.17 L577.33,291.54 L577.89,292.90 L578.46,294.26 L579.04,295.62 L579.64,296.97 L580.25,298.31 L580.88,299.65 L581.52,300.99 L582.17,302.32 L582.84,303.64 L583.52,304.96 L584.22,306.27 L584.93,307.57 L585.66,308.86 L586.41,310.14 L587.17,311.41 L587.95,312.67 L588.74,313.92 L589.55,315.16 L590.38,316.38 L591.23,317.59 L592.09,318.78 L592.98,319.96 L593.88,321.12 L594.79,322.27 L595.73,323.40 L596.69,324.51 L597.66,325.60 L598.66,326.67 L599.67,327.72 L600.71,328.76 L601.76,329.77 L602.84,330.76 L603.94,331.72 L605.05,332.67 L606.19,333.59 L607.35,334.48 L608.54,335.35 L609.74,336.20 L610.97,337.01 L612.21,337.80 L613.49,338.57 L614.78,339.30 L616.09,339.99 L617.42,340.66 L618.77,341.28 L620.13,341.86 L621.51,342.39 L622.90,342.88 L624.30,343.32 L625.72,343.73 L627.14,344.11 L628.56,344.46 L630.00,344.79 L631.43,345.10 L632.87,345.41 L634.31,345.72 L635.75,346.03 L637.19,346.33 L638.63,346.64 L640.08,346.94 L641.52,347.25 L642.96,347.55 L644.40,347.86 L645.84,348.17 L647.28,348.48 L648.72,348.79 L650.16,349.10 L651.60,349.40 L653.04,349.70 L654.49,350.00 L655.93,350.28 L657.37,350.55 L658.82,350.81 L660.27,351.06 L661.72,351.29 L663.18,351.50 L664.63,351.70 L666.09,351.89 L667.55,352.06 L669.01,352.23 L670.47,352.38 L671.94,352.53 L673.41,352.66 L674.87,352.79 L676.34,352.91 L677.81,353.03 L679.28,353.14 L680.75,353.24 L682.22,353.35 L683.70,353.45 L685.17,353.55 L686.64,353.65 L688.11,353.74 L689.58,353.85 L691.05,353.95 L692.52,354.05 L693.99,354.16 L695.46,354.28 L696.93,354.40 L698.40,354.52 L699.86,354.65 L701.33,354.78 L702.80,354.91 L704.26,355.03 L705.73,355.16 L707.19,355.28 L708.66,355.39 L710.12,355.50 L711.59,355.61 L713.06,355.70 L714.53,355.79 L716.00,355.86 L717.47,355.92 L718.94,355.97 L720.41,356.00 L721.88,356.02 L723.36,356.02 L724.84,356.00 L726.32,355.96 L727.80,355.90" fill="none" stroke="#619CFF" stroke-width="1.75" stroke-linejoin="round" stroke-linecap="butt"/>
<line x1="300.5" x2="300.5" y1="7.8" y2="373.7" stroke="#000" stroke-opacity="0.49" stroke-width="1.9"/>
<line x1="356.5" x2="356.5" y1="7.8" y2="373.7" stroke="#000" stroke-opacity="0.49" stroke-width="1.9"/>
<line x1="428.97" x2="428.97" y1="7.8" y2="373.7" stroke="#000" stroke-opacity="0.49" stroke-width="1.9"/>
<line x1="505.0" x2="505.0" y1="7.8" y2="373.7" stroke="#000" stroke-opacity="0.49" stroke-width="1.9"/>
<line x1="566.85" x2="566.85" y1="7.8" y2="373.7" stroke="#000" stroke-opacity="0.49" stroke-width="1.9"/>
<rect x="239.35" y="345.75" width="28.90" height="22.15" rx="3" ry="3" fill="#fff" stroke="#7f7f7f" stroke-width="1"/>
<rect x="245.00" y="357.4" width="7.7" height="1.25" fill="#7f7f7f"/>
<text transform="translate(254.05,362.6) rotate(0.03)" font-size="16" fill="#7f7f7f">2</text>
<rect x="313.85" y="345.75" width="29.05" height="22.15" rx="3" ry="3" fill="#fff" stroke="#7f7f7f" stroke-width="1"/>
<rect x="319.82" y="357.4" width="7.8" height="1.25" fill="#7f7f7f"/>
<path d="M334.42,351.20 L333.12,351.20 C332.88,352.70 331.38,353.55 329.67,353.65 L329.67,354.85 L332.77,354.85 L332.77,362.70 L334.42,362.70 Z" fill="#7f7f7f"/>
<rect x="384.60" y="345.75" width="18.80" height="22.15" rx="3" ry="3" fill="#fff" stroke="#7f7f7f" stroke-width="1"/>
<text transform="translate(394.00,362.6) rotate(0.03)" font-size="16" fill="#7f7f7f" text-anchor="middle">?</text>
<rect x="454.60" y="345.75" width="18.80" height="22.15" rx="3" ry="3" fill="#fff" stroke="#7f7f7f" stroke-width="1"/>
<path d="M465.85,351.20 L464.55,351.20 C464.30,352.70 462.80,353.55 461.10,353.65 L461.10,354.85 L464.20,354.85 L464.20,362.70 L465.85,362.70 Z" fill="#7f7f7f"/>
<rect x="528.85" y="345.75" width="19.30" height="22.15" rx="3" ry="3" fill="#fff" stroke="#7f7f7f" stroke-width="1"/>
<text transform="translate(538.50,362.6) rotate(0.03)" font-size="16" fill="#7f7f7f" text-anchor="middle">2</text>
<rect x="617.85" y="345.75" width="18.80" height="22.15" rx="3" ry="3" fill="#fff" stroke="#7f7f7f" stroke-width="1"/>
<text transform="translate(627.25,362.6) rotate(0.03)" font-size="16" fill="#7f7f7f" text-anchor="middle">3</text>
<text transform="translate(52.6,64.80) rotate(0.03) scale(0.92,1)" font-size="14.2" fill="#4d4d4d" text-anchor="end">0.20</text>
<text transform="translate(27.18,139.25) rotate(0.03) scale(0.92,1)" font-size="14.2" fill="#4d4d4d">0.</text>
<path d="M42.31,129.10 L41.22,129.10 C41.01,130.43 39.74,131.19 38.31,131.27 L38.31,132.34 L40.92,132.34 L40.92,139.25 L42.31,139.25 Z" fill="#4d4d4d"/>
<text transform="translate(45.34,139.25) rotate(0.03) scale(0.92,1)" font-size="14.2" fill="#4d4d4d">5</text>
<text transform="translate(27.18,213.40) rotate(0.03) scale(0.92,1)" font-size="14.2" fill="#4d4d4d">0.</text>
<path d="M42.31,203.25 L41.22,203.25 C41.01,204.58 39.74,205.34 38.31,205.42 L38.31,206.49 L40.92,206.49 L40.92,213.40 L42.31,213.40 Z" fill="#4d4d4d"/>
<text transform="translate(45.34,213.40) rotate(0.03) scale(0.92,1)" font-size="14.2" fill="#4d4d4d">0</text>
<text transform="translate(52.6,287.50) rotate(0.03) scale(0.92,1)" font-size="14.2" fill="#4d4d4d" text-anchor="end">0.05</text>
<text transform="translate(52.6,361.90) rotate(0.03) scale(0.92,1)" font-size="14.2" fill="#4d4d4d" text-anchor="end">0.00</text>
<rect x="222.95" y="386.2" width="6.85" height="1.1" fill="#4d4d4d"/>
<text transform="translate(230.55,390.3) rotate(0.03) scale(0.92,1)" font-size="14.2" fill="#4d4d4d">5</text>
<text transform="translate(464.05,390.3) rotate(0.03) scale(0.92,1)" font-size="14.2" fill="#4d4d4d" text-anchor="middle">0</text>
<text transform="translate(697.65,390.3) rotate(0.03) scale(0.92,1)" font-size="14.2" fill="#4d4d4d" text-anchor="middle">5</text>
<text transform="translate(393.9,408.5) rotate(0.03)" font-size="16" fill="#000" text-anchor="middle">IRT hate speech score</text>
<text transform="translate(19.45,190.2) rotate(-89.97)" font-size="16" fill="#000" text-anchor="middle">density</text>
<rect x="112.1" y="5.2" width="95.6" height="113.9" fill="#fafafa" stroke="#e6e6e6" stroke-width="1.6"/>
<text transform="translate(120.15,26.55) rotate(0.03)" font-size="16" fill="#000">platform</text>
<rect x="120.95" y="37.35" width="23.35" height="23.1" fill="none" stroke="#F8766D" stroke-width="1.6"/>
<text transform="translate(153.7,53.7) rotate(0.03) scale(0.983,1)" font-size="13.3" fill="#000">reddit</text>
<rect x="120.95" y="62.50" width="23.35" height="23.1" fill="none" stroke="#00BA38" stroke-width="1.6"/>
<text transform="translate(153.7,79.0) rotate(0.03) scale(0.983,1)" font-size="13.3" fill="#000">twitter</text>
<rect x="120.95" y="87.65" width="23.35" height="23.1" fill="none" stroke="#619CFF" stroke-width="1.6"/>
<text transform="translate(153.7,103.8) rotate(0.03) scale(0.983,1)" font-size="13.3" fill="#000">youtube</text>
</svg></body></html>
